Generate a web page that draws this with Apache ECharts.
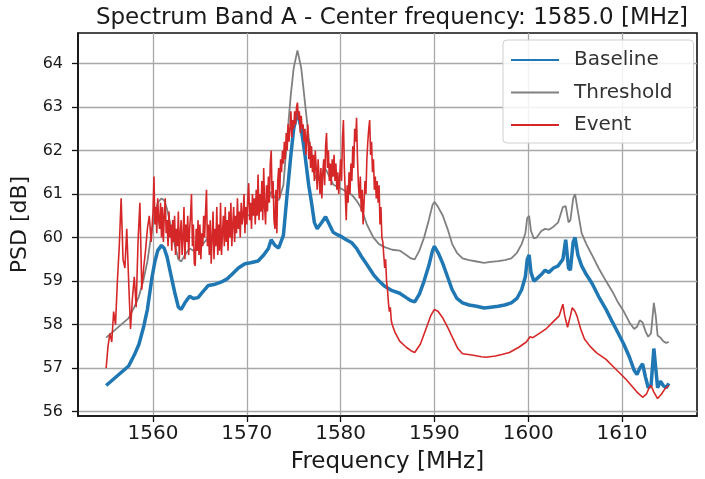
<!DOCTYPE html>
<html>
<head>
<meta charset="utf-8">
<script src="https://cdn.jsdelivr.net/npm/echarts@6/dist/echarts.min.js"></script>
<style>
html,body{margin:0;padding:0;background:#fff;}
#chart{width:705px;height:479px;}
</style>
</head>
<body>
<div id="chart"></div>
<script>
var titleText = 'Spectrum Band A - Center frequency: 1585.0 [MHz]';
var seriesNames = ['Baseline', 'Threshold', 'Event'];
var xTickLabels = [1560, 1570, 1580, 1590, 1600, 1610];
var yTickLabels = [56, 57, 58, 59, 60, 61, 62, 63, 64];

var baseFreq = [1555.0,1555.8,1556.6,1557.4,1558.0,1558.5,1559.0,1559.4,1559.7,1559.9,1560.2,1560.5,1560.9,1561.2,1561.5,1561.9,1562.3,1562.7,1563.0,1563.4,1563.9,1564.3,1564.8,1565.3,1565.9,1566.5,1567.3,1567.9,1568.4,1569.1,1569.8,1570.4,1571.2,1571.8,1572.3,1572.6,1573.0,1573.4,1573.9,1574.3,1574.7,1575.0,1575.4,1575.8,1576.2,1576.6,1576.9,1577.2,1577.5,1578.0,1578.4,1578.8,1579.2,1579.7,1580.1,1580.6,1581.2,1581.7,1582.2,1582.8,1583.5,1584.1,1584.7,1585.5,1586.3,1587.0,1587.5,1587.9,1588.4,1588.9,1589.4,1589.8,1590.0,1590.4,1590.9,1591.4,1591.9,1592.4,1593.0,1593.7,1594.5,1595.3,1596.0,1596.8,1597.5,1598.2,1598.8,1599.3,1599.7,1599.9,1600.1,1600.3,1600.6,1600.9,1601.4,1601.8,1602.2,1602.7,1603.2,1603.7,1604.0,1604.3,1604.5,1604.8,1605.0,1605.3,1605.7,1606.2,1606.8,1607.5,1608.3,1609.0,1609.6,1610.2,1610.8,1611.3,1611.6,1611.9,1612.2,1612.5,1612.8,1613.1,1613.4,1613.6,1613.8,1614.1,1614.4,1614.7,1615.0];

var baselineValues = [56.6,56.75,56.9,57.05,57.3,57.55,57.95,58.35,58.8,59.1,59.45,59.7,59.82,59.75,59.55,59.15,58.75,58.4,58.35,58.5,58.65,58.6,58.62,58.75,58.9,58.92,58.98,59.05,59.15,59.3,59.4,59.42,59.46,59.6,59.75,59.95,59.82,59.76,60.05,61.0,61.9,62.5,62.9,62.5,61.9,61.2,60.8,60.35,60.2,60.35,60.48,60.3,60.12,60.06,60.02,59.95,59.88,59.75,59.57,59.38,59.15,59.0,58.88,58.78,58.72,58.62,58.55,58.52,58.7,59.0,59.35,59.7,59.8,59.65,59.4,59.1,58.8,58.6,58.5,58.45,58.42,58.38,58.4,58.42,58.45,58.5,58.6,58.8,59.1,59.5,59.6,59.2,59.0,59.05,59.15,59.25,59.2,59.3,59.35,59.5,59.95,59.3,59.25,59.9,60.0,59.6,59.35,59.15,58.95,58.65,58.35,58.05,57.8,57.55,57.25,56.95,56.85,57.0,57.1,56.8,56.55,56.6,57.45,57.0,56.55,56.7,56.6,56.55,56.65];

var thresholdValues = [57.7,57.85,58.0,58.15,58.4,58.65,59.05,59.45,59.9,60.2,60.55,60.8,60.9,60.85,60.65,60.25,59.85,59.5,59.45,59.6,59.75,59.7,59.72,59.85,60.0,60.02,60.08,60.15,60.25,60.4,60.5,60.52,60.56,60.7,60.85,61.05,60.92,60.86,61.2,62.3,63.3,63.9,64.3,63.9,63.1,62.3,61.9,61.45,61.3,61.45,61.58,61.4,61.22,61.16,61.12,61.05,60.98,60.85,60.67,60.3,60.0,59.85,59.78,59.72,59.7,59.6,59.52,59.5,59.7,60.0,60.4,60.75,60.82,60.7,60.5,60.2,59.85,59.65,59.52,59.48,59.45,59.42,59.44,59.46,59.48,59.52,59.65,59.85,60.1,60.45,60.5,60.15,59.98,60.0,60.15,60.2,60.18,60.25,60.35,60.7,60.72,60.35,60.4,60.9,61.0,60.6,60.1,59.85,59.6,59.3,59.0,58.75,58.5,58.3,58.05,57.9,57.95,58.1,58.05,57.85,57.72,57.8,58.5,58.2,57.75,57.7,57.62,57.58,57.6];

var eventFreq = [
1555.0,1555.2,1555.4,1555.6,1555.8,1556.0,1556.2,1556.4,1556.6,1556.8,1557.0,1557.2,1557.4,1557.6,1557.8,1558.0,1558.2,1558.4,1558.6,1558.8,1559.0,1559.2,1559.4,1559.6,1559.8,
1560.0,1560.1,1560.2,1560.3,1560.4,1560.5,1560.6,1560.7,1560.8,1560.9,
1561.0,1561.1,1561.2,1561.3,1561.4,1561.5,1561.6,1561.7,1561.8,1561.9,
1562.0,1562.1,1562.2,1562.3,1562.4,1562.5,1562.6,1562.7,1562.8,1562.9,
1563.0,1563.1,1563.2,1563.3,1563.4,1563.5,1563.6,1563.7,1563.8,1563.9,
1564.0,1564.1,1564.2,1564.3,1564.4,1564.5,1564.6,1564.7,1564.8,1564.9,
1565.0,1565.1,1565.2,1565.3,1565.4,1565.5,1565.6,1565.7,1565.8,1565.9,
1566.0,1566.1,1566.2,1566.3,1566.4,1566.5,1566.6,1566.7,1566.8,1566.9,
1567.0,1567.1,1567.2,1567.3,1567.4,1567.5,1567.6,1567.7,1567.8,1567.9,
1568.0,1568.1,1568.2,1568.3,1568.4,1568.5,1568.6,1568.7,1568.8,1568.9,
1569.0,1569.1,1569.2,1569.3,1569.4,1569.5,1569.6,1569.7,1569.8,1569.9,
1570.0,1570.1,1570.2,1570.3,1570.4,1570.5,1570.6,1570.7,1570.8,1570.9,
1571.0,1571.1,1571.2,1571.3,1571.4,1571.5,1571.6,1571.7,1571.8,1571.9,
1572.0,1572.1,1572.2,1572.3,1572.4,1572.5,1572.6,1572.7,1572.8,1572.9,
1573.0,1573.1,1573.2,1573.3,1573.4,1573.5,1573.6,1573.7,1573.8,1573.9,
1574.0,1574.1,1574.2,1574.3,1574.4,1574.5,1574.6,1574.7,1574.8,1574.9,
1575.0,1575.1,1575.2,1575.3,1575.4,1575.5,1575.6,1575.7,1575.8,1575.9,
1576.0,1576.1,1576.2,1576.3,1576.4,1576.5,1576.6,1576.7,1576.8,1576.9,
1577.0,1577.1,1577.2,1577.3,1577.4,1577.5,1577.6,1577.7,1577.8,1577.9,
1578.0,1578.1,1578.2,1578.3,1578.4,1578.5,1578.6,1578.7,1578.8,1578.9,
1579.0,1579.1,1579.2,1579.3,1579.4,1579.5,1579.6,1579.7,1579.8,1579.9,
1580.0,1580.1,1580.2,1580.3,1580.4,1580.5,1580.6,1580.7,1580.8,1580.9,
1581.0,1581.1,1581.2,1581.3,1581.4,1581.5,1581.6,1581.7,1581.8,1581.9,
1582.0,1582.1,1582.2,1582.3,1582.4,1582.5,1582.6,1582.7,1582.8,1582.9,
1583.0,1583.1,1583.2,1583.3,1583.4,1583.5,1583.6,1583.7,1583.8,1583.9,
1584.0,1584.1,1584.2,1584.3,1584.4,1584.5,1584.6,1584.7,1584.8,1584.9,
1585.0,1585.1,1585.2,1585.3,1585.4,1585.5,
1585.8,1586.3,1587.0,1587.5,1587.9,1588.5,1589.1,1589.6,1590.0,1590.4,1590.9,1591.5,1592.0,1592.5,1593.0,1594.0,1595.0,1595.5,1596.5,1597.3,1598.0,1599.0,1599.8,1600.2,1600.5,1601.2,1601.9,1602.6,1603.3,1603.7,1603.9,1604.2,1604.5,1604.7,1605.0,1605.2,1605.6,1606.0,1606.6,1607.3,1608.3,1609.0,1609.7,1610.4,1611.0,1611.6,1612.2,1612.6,1612.9,1613.1,1613.4,1613.8,1614.2,1614.6,1615.0];

var eventValues = [
57.0,57.5,57.8,57.6,58.3,58.0,59.0,59.8,60.9,59.5,59.3,60.2,59.0,57.9,58.6,59.1,58.4,59.9,60.8,58.8,59.3,59.7,60.2,60.5,59.9,
60.6,61.4,60.3,60.7,60.1,60.9,60.4,60.2,60.8,60.0,
60.7,59.9,60.5,60.9,60.1,60.4,59.8,60.6,60.0,60.3,
59.7,60.4,59.9,60.5,59.6,60.2,59.8,60.6,59.5,60.1,
60.4,59.6,60.0,60.7,59.5,60.3,59.9,60.5,59.6,60.2,
60.5,61.0,59.8,60.3,59.4,59.35,60.2,59.7,60.4,59.6,
60.3,59.5,60.1,59.8,60.5,60.0,60.6,61.1,59.8,60.3,
59.6,60.4,59.4,60.0,60.6,59.5,60.2,59.8,60.7,59.6,
60.3,59.7,60.8,59.6,60.1,60.5,59.8,60.7,59.9,60.4,
59.7,60.6,60.0,60.8,59.8,60.3,60.7,59.9,60.5,60.1,
60.9,60.2,60.6,60.0,60.8,60.3,60.5,61.0,60.1,60.7,
60.3,60.9,61.25,60.4,60.8,60.2,61.0,60.5,60.9,60.3,
61.1,60.5,61.45,60.4,61.0,60.6,61.3,60.4,61.6,60.7,
60.3,61.2,60.6,61.4,60.8,61.7,62.0,60.9,61.3,60.4,
60.2,61.1,60.1,61.3,61.6,60.9,61.8,61.5,62.0,61.7,
62.2,61.8,62.4,62.0,62.6,62.2,62.5,62.9,62.3,62.7,
62.5,62.9,62.6,63.0,63.1,62.7,62.9,62.4,62.8,62.5,
62.6,62.2,62.5,61.9,62.3,62.6,61.8,62.2,61.6,62.1,
61.5,61.9,61.3,62.0,61.6,61.1,61.8,61.4,61.0,61.6,
60.9,61.5,61.8,61.2,62.1,62.4,61.6,62.0,61.3,61.7,
61.2,61.8,61.4,61.9,61.3,61.7,61.1,61.5,61.0,61.4,
61.8,61.3,62.3,62.7,61.6,61.0,60.4,61.2,60.8,61.5,
61.0,61.7,61.3,62.1,61.6,62.5,62.2,62.75,61.8,61.2,
60.9,61.4,60.6,61.1,60.3,60.8,61.3,61.0,61.8,62.2,
62.5,62.7,61.9,62.2,61.5,61.8,61.1,61.4,60.9,61.3,
60.8,61.2,60.3,60.7,60.0,59.9,59.6,59.3,59.5,59.0,
58.8,58.5,58.3,58.4,58.1,58.0,
57.82,57.62,57.48,57.4,57.36,57.55,57.9,58.2,58.35,58.3,58.15,57.9,57.67,57.45,57.33,57.3,57.26,57.25,57.28,57.32,57.36,57.48,57.6,57.72,57.7,57.8,57.9,58.05,58.2,58.47,58.2,57.94,58.2,58.39,58.3,58.2,57.9,57.67,57.5,57.35,57.2,57.05,56.9,56.75,56.6,56.45,56.33,56.4,56.55,56.6,56.45,56.3,56.4,56.53,56.6];

function pairs(xs, ys) {
  var out = [];
  for (var i = 0; i < xs.length; i++) out.push([xs[i], ys[i]]);
  return out;
}

var chart = echarts.init(document.getElementById('chart'), null, {renderer: 'canvas'});
var FONT = 'DejaVu Sans';
var TXT = '#1a1a1a';

chart.setOption({
  animation: false,
  backgroundColor: '#ffffff',
  title: {
    text: titleText,
    left: 387, textAlign: 'center',
    top: 2,
    textStyle: {fontFamily: FONT, fontSize: 23, fontWeight: 'normal', color: TXT}
  },
  legend: {
    data: seriesNames,
    orient: 'vertical',
    left: 503, top: 40,
    padding: [10, 21, 8, 7],
    itemWidth: 48, itemHeight: 20, itemGap: 12.5,
    borderColor: '#cfcfcf', borderWidth: 1, borderRadius: 4,
    backgroundColor: 'rgba(255,255,255,0.85)',
    itemStyle: {opacity: 0},
    textStyle: {fontFamily: FONT, fontSize: 20, color: '#333', padding: [0, 0, 0, 10]}
  },
  grid: {
    left: 78, right: 8, top: 33, bottom: 61,
    show: true, borderColor: '#111', borderWidth: 1.6, containLabel: false
  },
  xAxis: {
    type: 'value', min: 1552, max: 1618, interval: 10,
    name: 'Frequency [MHz]', nameLocation: 'middle', nameGap: 35,
    nameTextStyle: {fontFamily: FONT, fontSize: 23, color: TXT},
    axisLine: {show: true, onZero: false, lineStyle: {color: '#111', width: 1.6}},
    axisTick: {show: true, length: 6, customValues: xTickLabels, lineStyle: {color: '#111', width: 1.3}},
    axisLabel: {
      customValues: xTickLabels,
      fontFamily: FONT, fontSize: 20, color: TXT, margin: 8,
      formatter: function (v) { return Math.abs(v / 10 - Math.round(v / 10)) < 1e-6 ? String(Math.round(v)) : ''; }
    },
    splitLine: {show: true, lineStyle: {color: '#a8a8a8', width: 1.3}}
  },
  yAxis: {
    type: 'value', min: 55.9, max: 64.7, interval: 1,
    name: 'PSD [dB]', nameLocation: 'middle', nameGap: 41,
    nameTextStyle: {fontFamily: FONT, fontSize: 22, color: TXT},
    axisLine: {show: true, onZero: false, lineStyle: {color: '#111', width: 1.6}},
    axisTick: {show: true, length: 6, customValues: yTickLabels, lineStyle: {color: '#111', width: 1.3}},
    axisLabel: {
      customValues: yTickLabels,
      fontFamily: FONT, fontSize: 16, color: TXT, margin: 15,
      formatter: function (v) { return Math.abs(v - Math.round(v)) < 1e-6 ? String(Math.round(v)) : ''; }
    },
    splitLine: {show: true, lineStyle: {color: '#a8a8a8', width: 1.3}}
  },
  series: [
    {name: seriesNames[0], type: 'line', symbol: 'none', data: pairs(baseFreq, baselineValues),
     lineStyle: {color: '#1f77b4', width: 3.5}, itemStyle: {color: '#1f77b4'}, z: 2},
    {name: seriesNames[1], type: 'line', symbol: 'none', data: pairs(baseFreq, thresholdValues),
     lineStyle: {color: '#808080', width: 1.8}, itemStyle: {color: '#808080'}, z: 3},
    {name: seriesNames[2], type: 'line', symbol: 'none', data: pairs(eventFreq, eventValues),
     lineStyle: {color: '#d62728', width: 1.6}, itemStyle: {color: '#d62728'}, z: 4}
  ]
});
</script>
</body>
</html>
